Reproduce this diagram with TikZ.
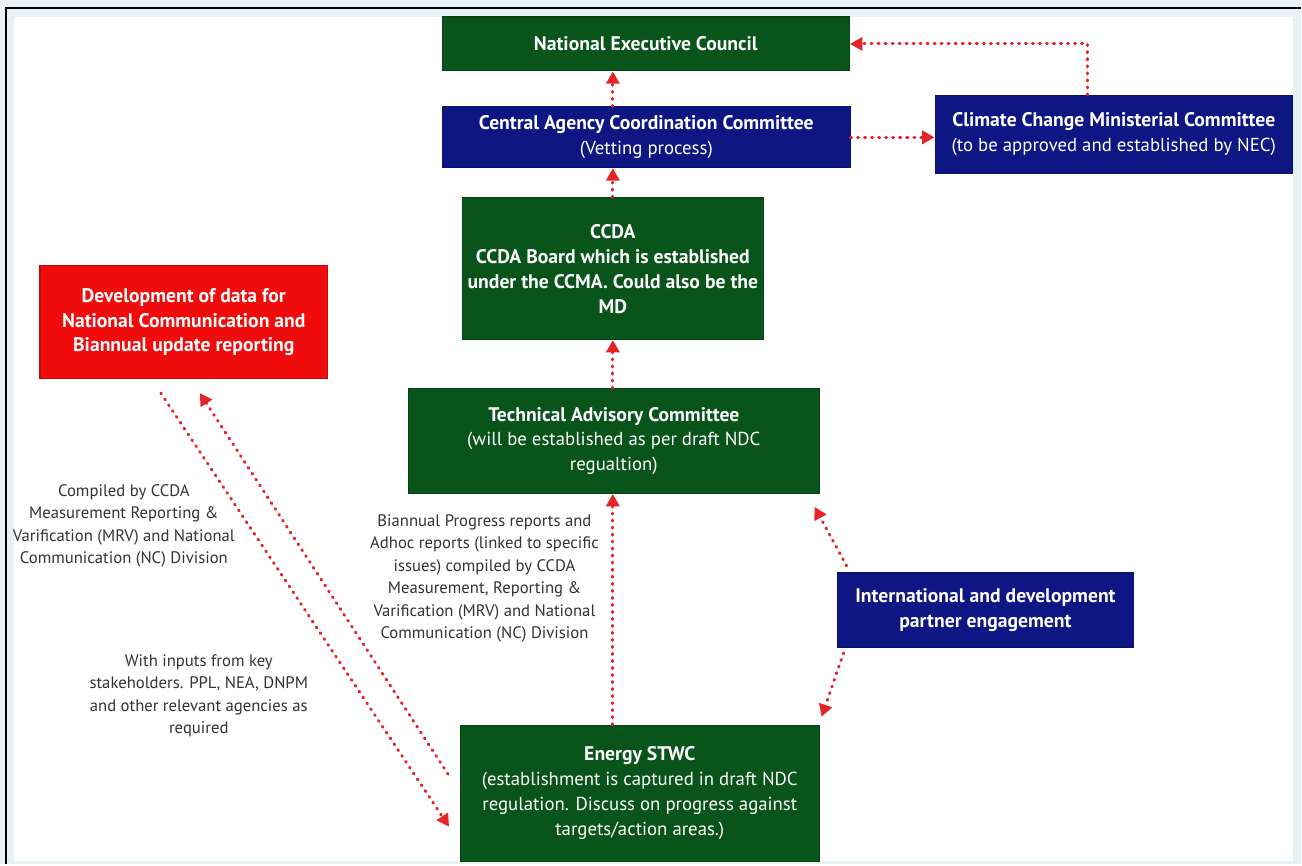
\documentclass[tikz,border=0pt]{standalone}
\usepackage{fontspec}
\setmainfont{PT Sans}
\usetikzlibrary{arrows.meta}
\definecolor{necgreen}{RGB}{8,84,26}
\definecolor{navyblue}{RGB}{14,22,132}
\definecolor{devred}{RGB}{240,12,12}
\definecolor{dotred}{RGB}{228,36,40}
\definecolor{pagebg}{RGB}{230,242,243}
\newcommand\boxhead[1]{{\fontsize{11.2}{14.2}\selectfont\bfseries #1}}

\begin{document}
\begin{tikzpicture}[x=0.02cm,y=-0.02cm,line width=.35pt,
  box/.style={draw=#1!80!black,fill=#1,line width=.6pt,text=white,align=center,inner sep=2pt,font=\fontsize{10.7}{14.2}\selectfont},
  note/.style={align=center,inner sep=0pt,font=\fontsize{9.5}{12.8}\selectfont,text=black!80},
  flow/.style={dotred,line width=1.7pt,line cap=round,dash pattern=on .6pt off 3.4pt,-{Triangle[length=7pt,width=7.5pt]}}]
\fill[pagebg] (0,0) rectangle (1302,865);
\draw[line width=1.6pt] (6,865)--(6,8)--(1302,8);
\fill[white] (14,17) rectangle (1294,862);
\node[box=necgreen,minimum width=8.16cm,minimum height=1.08cm] (nec) at (646.5,44) {\boxhead{National Executive Council}};
\node[box=navyblue,minimum width=8.16cm,minimum height=1.22cm] (cacc) at (647,137.5) {\boxhead{Central Agency Coordination Committee}\\(Vetting process)};
\node[box=navyblue,minimum width=7.16cm,minimum height=1.56cm] (ccmc) at (1115,134.5) {\boxhead{Climate Change Ministerial Committee}\\(to be approved and established by NEC)};
\node[box=necgreen,minimum width=6.02cm,minimum height=2.84cm] (ccda) at (613.5,269) {\boxhead{CCDA}\\\boxhead{CCDA Board which is established}\\\boxhead{under the CCMA. Could also be the}\\\boxhead{MD}};
\node[box=devred,minimum width=5.76cm,minimum height=2.26cm] (dev) at (184,322.5) {\boxhead{Development of data for}\\\boxhead{National Communication and}\\\boxhead{Biannual update reporting}};
\node[box=necgreen,minimum width=8.22cm,minimum height=2.10cm] (tac) at (614.5,441.5) {\boxhead{Technical Advisory Committee}\\(will be established as per draft NDC\\regualtion)};
\node[box=navyblue,minimum width=5.94cm,minimum height=1.50cm] (intl) at (986.5,610.5) {\boxhead{International and development}\\\boxhead{partner engagement}};
\node[box=necgreen,minimum width=7.18cm,minimum height=2.72cm] (stwc) at (640.5,794) {\boxhead{Energy STWC}\\(establishment is captured in draft NDC\\regulation. Discuss on progress against\\targets/action areas.)};
\node[note] (mrvnote) at (124,526.5) {Compiled by CCDA\\Measurement Reporting \&\\Varification (MRV) and National\\Communication (NC) Division};
\node[note] (inputnote) at (199,696.5) {With inputs from key\\stakeholders. PPL, NEA, DNPM\\and other relevant agencies as\\required};
\node[note] (reportnote) at (485,579) {Biannual Progress reports and\\Adhoc reports (linked to specific\\issues) compiled by CCDA\\Measurement, Reporting \&\\Varification (MRV) and National\\Communication (NC) Division};
\draw[flow] (cacc.north -| ccda.north)--(nec.south -| ccda.north);
\draw[flow] (ccda.north)--(cacc.south -| ccda.north);
\draw[flow] (tac.north -| ccda.south)--(ccda.south);
\draw[flow] (stwc.north -| ccda.south)--(tac.south -| ccda.south);
\draw[flow] (cacc.east)--(cacc.east -| ccmc.west);
\draw[flow] ([xshift=-.52cm]ccmc.north) |- (nec.east);
\draw[flow] ([xshift=.2cm,yshift=.12cm]intl.north west)--([xshift=-.1cm,yshift=-.26cm]tac.south east);
\draw[flow] ([xshift=.14cm,yshift=-.1cm]intl.south west)--([xshift=.04cm,yshift=.16cm]stwc.north east);
\draw[flow] ([xshift=-.46cm,yshift=-.28cm]dev.south)--([xshift=-.22cm,yshift=.7cm]stwc.south west);
\draw[flow] ([xshift=-.24cm,yshift=.38cm]stwc.west)--([xshift=.32cm,yshift=-.28cm]dev.south);
\end{tikzpicture}
\end{document}
